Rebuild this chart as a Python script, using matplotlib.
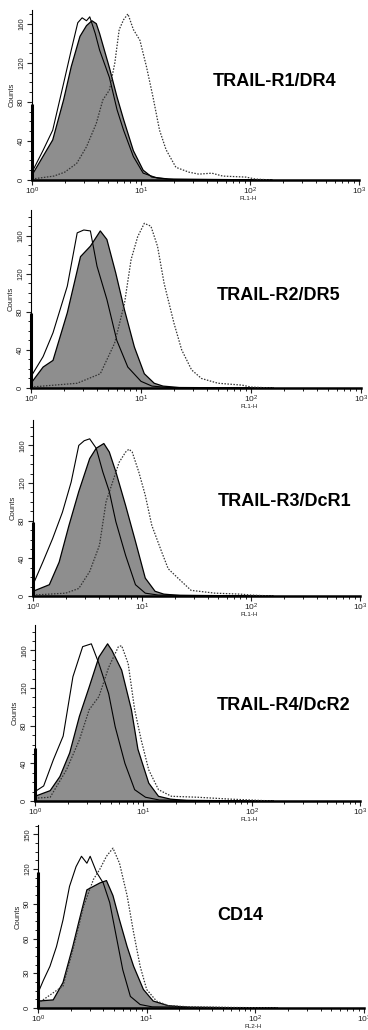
import numpy as np
import matplotlib
matplotlib.use('Agg')
import matplotlib.pyplot as plt
from matplotlib.ticker import MultipleLocator, LogLocator, NullFormatter

plt.rcParams['font.family'] = ['Liberation Sans', 'DejaVu Sans']

# panel titles / axis names
titles = ['TRAIL-R1/DR4', 'TRAIL-R2/DR5', 'TRAIL-R3/DcR1', 'TRAIL-R4/DcR2', 'CD14']
xnames = ['FL1-H', 'FL1-H', 'FL1-H', 'FL1-H', 'FL2-H']
ytick_step = [40, 40, 40, 40, 30]
ytop = [174, 187, 187, 187, 158]
# height of the first-channel pile-up seen on the y axis
pileup = [78, 79, 79, 56, 117]

# histograms: x in log10(FL), y in counts
# panel 1 TRAIL-R1/DR4
r1_open_x = [0, 0.1, 0.19, 0.29, 0.36, 0.42, 0.46, 0.5, 0.53, 0.58, 0.62, 0.71, 0.78, 0.84, 0.93, 1.02, 1.15, 1.3, 2.2]
r1_open_y = [8, 30, 51, 99, 133, 161, 166, 163, 167, 150, 133, 105, 72, 51, 24, 7, 2, 0.5, 0]
r1_fill_x = [0, 0.1, 0.19, 0.29, 0.36, 0.44, 0.5, 0.55, 0.59, 0.62, 0.71, 0.78, 0.84, 0.93, 1.02, 1.1, 1.25, 2.2]
r1_fill_y = [5, 24, 41, 82, 116, 147, 158, 163, 160, 150, 115, 85, 62, 30, 10, 3, 1, 0]
r1_dot_x = [0, 0.2, 0.3, 0.41, 0.5, 0.59, 0.65, 0.71, 0.76, 0.8, 0.84, 0.88, 0.93, 0.99, 1.05, 1.11, 1.17, 1.23, 1.32, 1.44, 1.53, 1.65, 1.75, 1.96, 2.05, 2.2]
r1_dot_y = [1, 4, 8, 17, 34, 58, 82, 92, 120, 154, 164, 170, 154, 143, 116, 85, 51, 31, 13, 8, 6, 7, 4, 3, 1, 0]

# panel 2 TRAIL-R2/DR5
r2_open_x = [0, 0.11, 0.2, 0.33, 0.42, 0.48, 0.54, 0.6, 0.69, 0.78, 0.88, 1.0, 1.1, 1.25, 2.2]
r2_open_y = [12, 33, 58, 107, 163, 166, 165, 128, 93, 50, 22, 7, 2, 0.5, 0]
r2_fill_x = [0, 0.11, 0.2, 0.33, 0.45, 0.54, 0.63, 0.69, 0.77, 0.85, 0.94, 1.03, 1.12, 1.2, 1.35, 2.2]
r2_fill_y = [5, 22, 29, 79, 138, 149, 165, 156, 121, 82, 43, 15, 5, 2, 0.5, 0]
r2_dot_x = [0, 0.42, 0.63, 0.76, 0.85, 0.91, 0.97, 1.03, 1.09, 1.15, 1.21, 1.3, 1.37, 1.46, 1.55, 1.7, 1.92, 2.0, 2.2]
r2_dot_y = [1, 5, 15, 47, 89, 135, 159, 173, 170, 149, 110, 68, 40, 19, 10, 5, 3, 1, 0]

# panel 3 TRAIL-R3/DcR1
r3_open_x = [0, 0.09, 0.18, 0.27, 0.35, 0.42, 0.47, 0.52, 0.58, 0.64, 0.7, 0.76, 0.85, 0.94, 1.03, 1.15, 2.2]
r3_open_y = [12, 36, 61, 89, 121, 160, 165, 167, 157, 132, 111, 79, 43, 12, 3, 1, 0]
r3_fill_x = [0, 0.15, 0.24, 0.33, 0.42, 0.52, 0.58, 0.65, 0.7, 0.76, 0.85, 0.94, 1.03, 1.12, 1.2, 1.35, 2.2]
r3_fill_y = [5, 12, 36, 75, 111, 146, 157, 162, 153, 132, 96, 58, 19, 5, 2, 0.5, 0]
r3_dot_x = [0, 0.3, 0.42, 0.52, 0.61, 0.67, 0.73, 0.79, 0.85, 0.88, 0.91, 0.97, 1.03, 1.09, 1.18, 1.24, 1.33, 1.45, 1.67, 1.9, 2.0, 2.2]
r3_dot_y = [1, 3, 8, 26, 54, 100, 121, 142, 153, 156, 153, 132, 107, 75, 47, 29, 19, 6, 3, 2, 1, 0]

# panel 4 TRAIL-R4/DcR2
r4_open_x = [0, 0.08, 0.17, 0.26, 0.35, 0.44, 0.52, 0.59, 0.68, 0.74, 0.83, 0.92, 1.02, 1.15, 2.2]
r4_open_y = [10, 16, 44, 69, 132, 164, 167, 146, 114, 79, 40, 12, 4, 1, 0]
r4_fill_x = [0, 0.14, 0.23, 0.32, 0.41, 0.5, 0.59, 0.67, 0.71, 0.8, 0.89, 0.95, 1.05, 1.14, 1.25, 1.4, 2.2]
r4_fill_y = [5, 11, 26, 51, 90, 121, 153, 167, 160, 139, 97, 55, 19, 5, 2, 0.5, 0]
r4_dot_x = [0, 0.14, 0.29, 0.41, 0.5, 0.59, 0.68, 0.77, 0.8, 0.86, 0.92, 0.98, 1.05, 1.14, 1.26, 1.5, 1.8, 2.0, 2.2]
r4_dot_y = [3, 4, 33, 65, 97, 111, 142, 164, 165, 146, 97, 65, 33, 12, 5, 4, 2, 1, 0]

# panel 5 CD14
cd14_open_x = [0, 0.05, 0.11, 0.17, 0.23, 0.29, 0.35, 0.4, 0.45, 0.48, 0.54, 0.6, 0.66, 0.72, 0.78, 0.85, 0.94, 1.05, 2.2]
cd14_open_y = [13, 24, 36, 53, 76, 105, 122, 131, 125, 131, 117, 108, 91, 62, 33, 10, 3, 1, 0]
cd14_fill_x = [0, 0.14, 0.23, 0.32, 0.38, 0.45, 0.51, 0.57, 0.63, 0.69, 0.75, 0.82, 0.88, 0.97, 1.06, 1.2, 1.4, 2.2]
cd14_fill_y = [6, 7, 22, 53, 76, 102, 105, 108, 110, 97, 76, 53, 36, 16, 6, 2, 0.5, 0]
cd14_dot_x = [0, 0.23, 0.32, 0.42, 0.51, 0.57, 0.63, 0.69, 0.75, 0.82, 0.88, 0.94, 1.0, 1.09, 1.2, 1.4, 2.2]
cd14_dot_y = [4, 19, 50, 88, 111, 120, 131, 138, 125, 97, 65, 36, 16, 6, 2, 1, 0]

open_x = [r1_open_x, r2_open_x, r3_open_x, r4_open_x, cd14_open_x]
open_y = [r1_open_y, r2_open_y, r3_open_y, r4_open_y, cd14_open_y]
fill_x = [r1_fill_x, r2_fill_x, r3_fill_x, r4_fill_x, cd14_fill_x]
fill_y = [r1_fill_y, r2_fill_y, r3_fill_y, r4_fill_y, cd14_fill_y]
dot_x = [r1_dot_x, r2_dot_x, r3_dot_x, r4_dot_x, cd14_dot_x]
dot_y = [r1_dot_y, r2_dot_y, r3_dot_y, r4_dot_y, cd14_dot_y]

W, H = 368, 1030
# pixel boxes of the panels: left, right, top, bottom
boxes = [(32, 359, 10, 180), (31, 361, 210, 388), (33, 360, 420, 596),
         (35, 360, 625, 801), (38, 364, 825, 1008)]
title_xy = [(213, 82), (217, 295), (218, 502), (217, 705), (217, 915)]

fig = plt.figure(figsize=(W / 100, H / 100), dpi=100)

for i in range(5):
    l, r, t, b = boxes[i]
    ax = fig.add_axes([l / W, 1 - b / H, (r - l) / W, (b - t) / H])

    fx = 10 ** np.array(fill_x[i])
    ax.fill_between(fx, fill_y[i], 0, facecolor='#8e8e8e', edgecolor='none', zorder=1)
    ax.plot(fx, fill_y[i], color='black', lw=0.9, zorder=2)
    ax.plot(10 ** np.array(open_x[i]), open_y[i], color='black', lw=0.8, zorder=3)
    ax.plot(10 ** np.array(dot_x[i]), dot_y[i], color='#333333', lw=0.9,
            linestyle=(0, (1.2, 1.2)), zorder=4)
    ax.vlines(1, 0, pileup[i], color='black', lw=2.2, zorder=5, clip_on=False)

    ax.set_xscale('log')
    ax.set_xlim(1, 1000)
    ax.set_ylim(0, ytop[i])

    for s in ['top', 'right']:
        ax.spines[s].set_visible(False)
    ax.spines['left'].set_linewidth(0.8)
    ax.spines['bottom'].set_linewidth(1.8)

    ax.yaxis.set_major_locator(MultipleLocator(ytick_step[i]))
    ax.yaxis.set_minor_locator(MultipleLocator(ytick_step[i] / 4))
    ax.xaxis.set_major_locator(LogLocator(base=10))
    ax.xaxis.set_minor_locator(LogLocator(base=10, subs=np.arange(2, 10)))
    ax.xaxis.set_minor_formatter(NullFormatter())

    ax.tick_params(axis='both', which='major', length=3.5, width=0.8, direction='out',
                   labelsize=5.5, pad=1.5, colors='#222222')
    ax.tick_params(axis='both', which='minor', length=2, width=0.6, direction='out')
    ax.tick_params(axis='x', which='major', labelsize=6, pad=0.5)
    for lab in ax.get_yticklabels():
        lab.set_rotation(90)
        lab.set_va('center')

    ax.set_ylabel('Counts', fontsize=5.5, labelpad=2, color='#222222')
    ax.annotate(xnames[i], xy=(0.66, 0), xycoords='axes fraction', xytext=(0, -13),
                textcoords='offset points', ha='center', va='center', fontsize=4.5,
                color='#222222')

    tx, ty = title_xy[i]
    fig.text(tx / W, 1 - ty / H, titles[i], fontsize=13, fontweight='bold',
             ha='left', va='center')

fig.savefig('out.png', dpi=100)
